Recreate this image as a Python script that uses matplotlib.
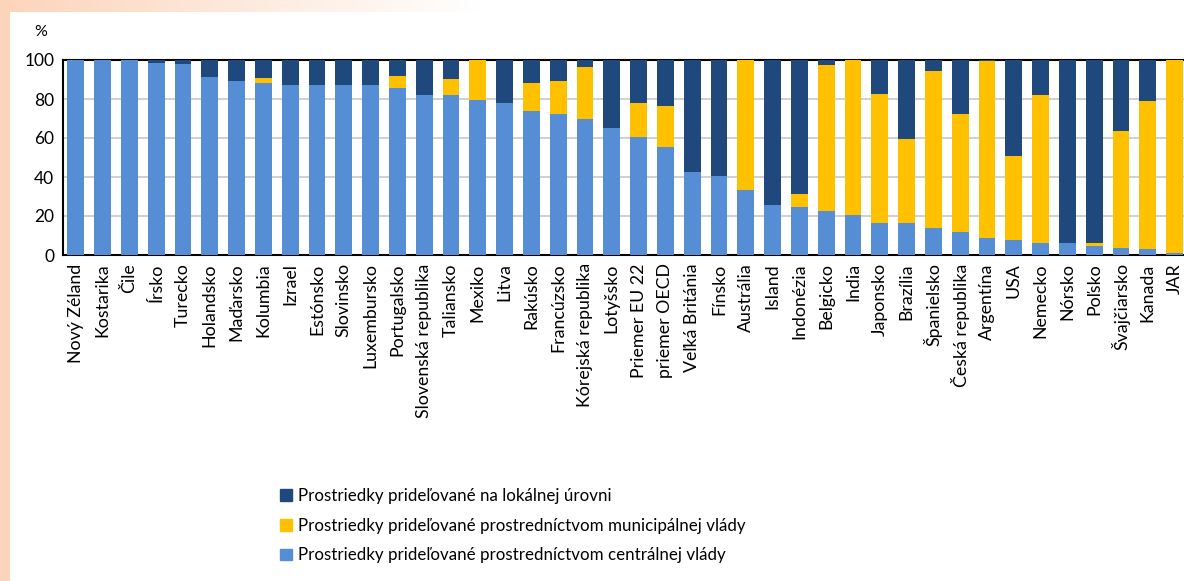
import numpy as np
import matplotlib
matplotlib.use("Agg")
import matplotlib.pyplot as plt
from matplotlib.patches import Patch

plt.rcParams['font.family'] = ['Lato', 'DejaVu Sans']

countries = ["Nový Zéland", "Kostarika", "Čile", "Írsko", "Turecko", "Holandsko",
             "Maďarsko", "Kolumbia", "Izrael", "Estónsko", "Slovinsko", "Luxembursko",
             "Portugalsko", "Slovenská republika", "Taliansko", "Mexiko", "Litva",
             "Rakúsko", "Francúzsko", "Kórejská republika", "Lotyšsko", "Priemer EU 22",
             "priemer OECD", "Veľká Británia", "Fínsko", "Austrália", "Island",
             "Indonézia", "Belgicko", "India", "Japonsko", "Brazília", "Španielsko",
             "Česká republika", "Argentína", "USA", "Nemecko", "Nórsko", "Poľsko",
             "Švajčiarsko", "Kanada", "JAR"]

central = [100, 100, 100, 98.6, 98.1, 91.5, 89.4, 88.0, 87.4, 87.4, 87.0, 87.0,
           85.5, 82.1, 82.1, 79.7, 77.9, 73.8, 72.5, 69.9, 65.0, 60.5, 55.4, 42.4,
           40.3, 33.3, 25.8, 24.4, 22.7, 20.3, 16.4, 16.4, 13.8, 11.8, 8.9, 7.9,
           6.3, 6.3, 4.8, 3.8, 3.2, 1.2]

municipal = [0, 0, 0, 0, 0, 0, 0, 2.9, 0, 0, 0, 0,
             6.1, 0, 8.3, 20.3, 0, 14.2, 16.6, 26.7, 0, 17.4, 21.0, 0,
             0, 66.7, 0, 7.0, 74.9, 79.7, 66.0, 43.1, 80.4, 60.7, 90.6, 43.0,
             75.8, 0, 1.5, 59.6, 75.8, 98.8]

local = [0, 0, 0, 1.4, 1.9, 8.5, 10.6, 9.1, 12.6, 12.6, 13.0, 13.0,
         8.4, 17.9, 9.6, 0, 22.1, 12.0, 10.9, 3.4, 35.0, 22.1, 23.6, 57.6,
         59.7, 0, 74.2, 68.6, 2.4, 0, 17.6, 40.5, 5.8, 27.5, 0.5, 49.1,
         17.9, 93.7, 93.7, 36.6, 21.0, 0]

series_labels = ["Prostriedky prideľované na lokálnej úrovni",
                 "Prostriedky prideľované prostredníctvom municipálnej vlády",
                 "Prostriedky prideľované prostredníctvom centrálnej vlády"]

C_LOCAL = "#1f497d"
C_MUNI = "#ffc000"
C_CENT = "#558ed5"

W, H = 1184, 581
fig = plt.figure(figsize=(W / 100, H / 100), dpi=100)
fig.patch.set_facecolor("white")

# decorative background frame (peach strip left and top)
bg = fig.add_axes([0, 0, 1, 1], zorder=-10)
img = np.ones((H, W, 4))
peach = np.array([252, 212, 186]) / 255.0
alpha = np.zeros((H, W))
alpha[:, :10] = 1.0
xs = np.arange(W)
top_fade = np.clip(1.0 - xs / 480.0, 0, 1)
alpha[:12, :] = np.maximum(alpha[:12, :], top_fade[None, :])
img[..., :3] = peach[None, None, :] * alpha[..., None] + (1 - alpha[..., None])
bg.imshow(img, aspect="auto", extent=[0, 1, 0, 1])
bg.set_axis_off()

ax = fig.add_axes([62.7 / W, 1 - 255 / H, 1125 / W, 195 / H])
x = np.arange(len(countries))
bw = 0.63
c = np.array(central)
m = np.array(municipal)
l = np.array(local)
ax.bar(x, c, bw, color=C_CENT, zorder=3)
ax.bar(x, m, bw, bottom=c, color=C_MUNI, zorder=3)
ax.bar(x, l, bw, bottom=c + m, color=C_LOCAL, zorder=3)

ax.set_xlim(-0.49, len(countries) - 0.51)
ax.set_ylim(0, 100)
ax.set_yticks([0, 20, 40, 60, 80, 100])
ax.yaxis.grid(True, color="#c8c8c8", linewidth=1.2, zorder=0)
ax.set_axisbelow(True)
ax.set_xticks(x)
ax.set_xticklabels(countries, rotation=90, fontsize=12.8)
ax.tick_params(axis="y", length=0, labelsize=12.5, pad=6)
ax.tick_params(axis="x", length=0, pad=6)
for s in ["left", "bottom", "top", "right"]:
    ax.spines[s].set_color("black")
    ax.spines[s].set_linewidth(1.5)

fig.text(41 / W, 1 - 32 / H, "%", fontsize=11.5, ha="center", va="center")

handles = [Patch(color=C_LOCAL), Patch(color=C_MUNI), Patch(color=C_CENT)]
fig.legend(handles, series_labels, loc="upper left",
           bbox_to_anchor=(265 / W, 1 - 473 / H), frameon=False,
           fontsize=12.2, handlelength=0.7, handleheight=0.7,
           handletextpad=0.35, labelspacing=0.8)

fig.savefig("out.png", dpi=100)
